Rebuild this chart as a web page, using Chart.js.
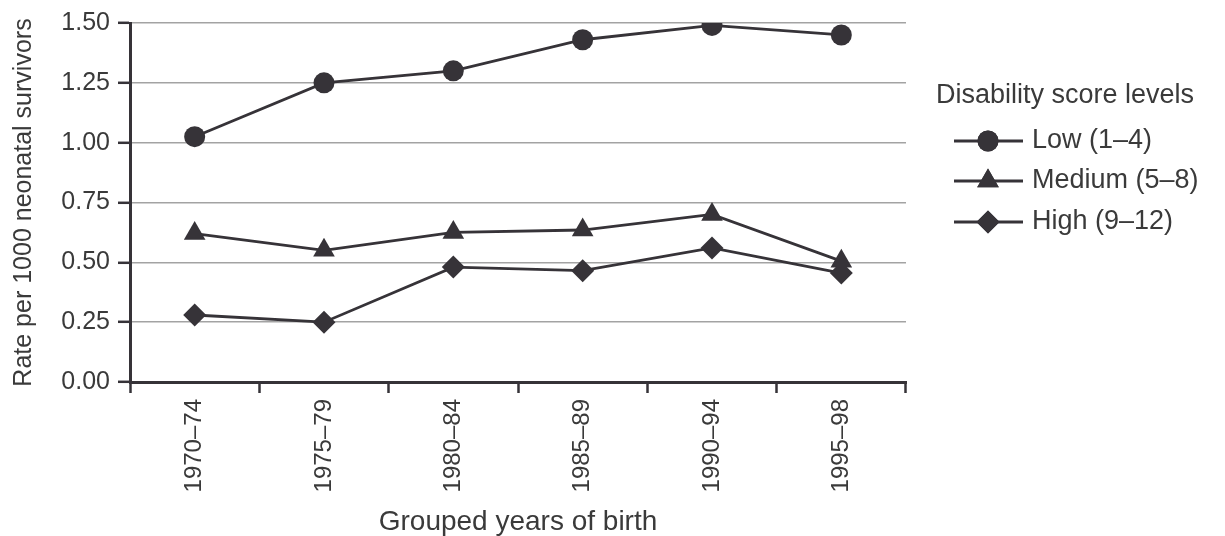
<!DOCTYPE html>
<html>
<head>
<meta charset="utf-8">
<script src="https://cdn.jsdelivr.net/npm/chart.js@4/dist/chart.umd.min.js"></script>
<style>
  html, body { margin: 0; padding: 0; background: #ffffff; }
  #wrap { width: 1225px; height: 536px; position: relative; }
</style>
</head>
<body>
<div id="wrap"><canvas id="c" width="1225" height="536"></canvas></div>
<script>
const categories = ['1970\u201374', '1975\u201379', '1980\u201384', '1985\u201389', '1990\u201394', '1995\u201398'];
const seriesLabels = ['Low (1\u20134)', 'Medium (5\u20138)', 'High (9\u201312)'];
const lowValues = [1.025, 1.25, 1.30, 1.43, 1.49, 1.45];
const mediumValues = [0.62, 0.55, 0.625, 0.635, 0.70, 0.505];
const highValues = [0.28, 0.25, 0.48, 0.465, 0.56, 0.455];
const yTickValues = [0, 0.25, 0.5, 0.75, 1.0, 1.25, 1.5];
const legendTitle = 'Disability score levels';
const xTitle = 'Grouped years of birth';
const yTitle = 'Rate per 1000 neonatal survivors';

const INK = '#363338';
const TEXT = '#3a3a3a';
const FONT = "'Liberation Sans', Arial, Helvetica, sans-serif";
Chart.defaults.font.family = FONT;
Chart.defaults.color = TEXT;

const styles = [
  { pointStyle: 'circle', radius: 10.5 },
  { pointStyle: 'triangle', radius: 12.5 },
  { pointStyle: 'rectRot', radius: 11.5 }
];
const seriesData = [lowValues, mediumValues, highValues];

const datasets = seriesData.map((d, i) => ({
  label: seriesLabels[i],
  data: d,
  borderColor: INK,
  backgroundColor: INK,
  borderWidth: 2.8,
  pointStyle: styles[i].pointStyle,
  pointRadius: styles[i].radius,
  pointHoverRadius: styles[i].radius,
  pointBorderWidth: 0,
  pointBackgroundColor: INK,
  tension: 0,
  fill: false
}));

const customLegend = {
  id: 'customLegend',
  afterDraw(chart) {
    const ctx = chart.ctx;
    ctx.save();
    ctx.fillStyle = TEXT;
    ctx.font = '27px ' + FONT;
    ctx.textBaseline = 'middle';
    ctx.textAlign = 'left';
    ctx.fillText(legendTitle, 936, 96);
    const rows = [141, 181, 222];
    chart.data.datasets.forEach((ds, i) => {
      const y = rows[i];
      ctx.strokeStyle = INK;
      ctx.lineWidth = 2.8;
      ctx.beginPath();
      ctx.moveTo(954, y);
      ctx.lineTo(1023, y);
      ctx.stroke();
      ctx.fillStyle = INK;
      Chart.helpers.drawPoint(ctx, { pointStyle: ds.pointStyle, radius: ds.pointRadius, rotation: 0, borderWidth: 0 }, 988, y);
      ctx.fill();
      ctx.fillStyle = TEXT;
      ctx.fillText(ds.label, 1032, y);
    });
    ctx.restore();
  }
};

new Chart(document.getElementById('c'), {
  type: 'line',
  data: { labels: categories, datasets: datasets },
  options: {
    responsive: false,
    animation: false,
    devicePixelRatio: 1,
    layout: { padding: { left: 0, right: 319, top: 20, bottom: 0 } },
    plugins: {
      legend: { display: false },
      tooltip: { enabled: false },
      title: { display: false }
    },
    scales: {
      x: {
        type: 'category',
        offset: true,
        grid: {
          offset: true,
          drawOnChartArea: false,
          drawTicks: true,
          tickLength: 11,
          tickColor: INK,
          tickWidth: 2.5
        },
        border: { display: true, color: INK, width: 3 },
        ticks: {
          minRotation: 90,
          maxRotation: 90,
          autoSkip: false,
          padding: 6,
          color: TEXT,
          font: { size: 24 }
        },
        title: {
          display: true,
          text: xTitle,
          color: TEXT,
          font: { size: 28, lineHeight: 1.0 },
          padding: { top: 0, bottom: 0 }
        },
        afterFit(scale) { scale.height = 154; }
      },
      y: {
        min: 0,
        max: 1.5,
        afterBuildTicks(scale) { scale.ticks = yTickValues.map(v => ({ value: v })); },
        grid: {
          color: '#a3a3a3',
          lineWidth: 1.6,
          drawTicks: true,
          tickLength: 12,
          tickColor: INK,
          tickWidth: 2.5
        },
        border: { display: true, color: INK, width: 3 },
        ticks: {
          padding: 8,
          color: TEXT,
          font: { size: 25 },
          callback: (v) => Number(v).toFixed(2)
        },
        title: {
          display: true,
          text: yTitle,
          color: TEXT,
          font: { size: 25, lineHeight: 1.1 },
          padding: { top: 10, bottom: 0 }
        },
        afterFit(scale) { scale.width = 130; }
      }
    }
  },
  plugins: [customLegend]
});
</script>
</body>
</html>
